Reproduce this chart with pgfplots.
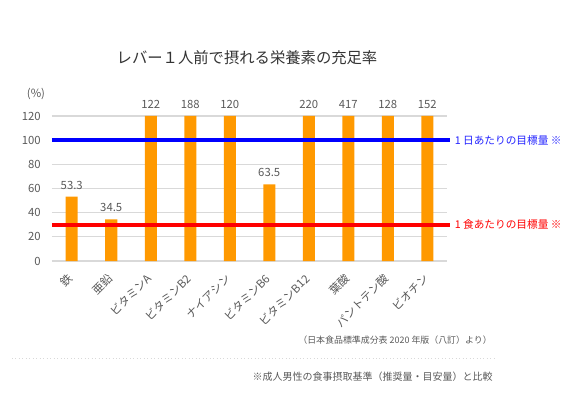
\documentclass[border=0pt]{standalone}
\usepackage{pgfplots}
\pgfplotsset{compat=1.18}
\usepackage{pgfplotstable}
\usepackage{fontspec}
\setmainfont{Noto Sans CJK JP}
\definecolor{barorange}{HTML}{FF9900}
\definecolor{txtgray}{HTML}{595959}
\definecolor{gridgray}{HTML}{D9D9D9}
\definecolor{lblue}{HTML}{2222FF}
\pgfplotstableread{
x val
0 53.3
1 34.5
2 122
3 188
4 120
5 63.5
6 220
7 417
8 128
9 152
}\datatable
\begin{document}
\begin{tikzpicture}
\path[use as bounding box] (0,0) rectangle (436.5pt,297.75pt);
\begin{axis}[
  at={(39pt,102pt)}, anchor=south west,
  scale only axis, width=296.25pt, height=108.75pt,
  xmin=-0.5, xmax=9.5, ymin=0, ymax=120,
  ytick={0,20,...,120},
  ymajorgrids, grid style={gridgray, line width=0.8pt},
  axis line style={draw=none}, tick style={draw=none},
  xtick={0,...,9},
  xticklabels={鉄,亜鉛,ビタミンA,ビタミンB2,ナイアシン,ビタミンB6,ビタミンB12,葉酸,パントテン酸,ビオチン},
  xticklabel style={rotate=45, anchor=east, font=\fontsize{8.5}{8.5}\selectfont, text=txtgray, inner sep=1pt},
  xticklabel shift=11pt,
  yticklabel style={font=\fontsize{8.5}{8.5}\selectfont, text=txtgray, xshift=-5pt},
  /pgf/number format/assume math mode=true,
  clip=false,
]
\addplot[ybar, bar width=9pt, fill=barorange, draw=none,
  y filter/.expression={min(y,120)},
  point meta=explicit symbolic,
  nodes near coords,
  nodes near coords style={font=\fontsize{8.5}{8.5}\selectfont, text=txtgray, yshift=2pt}]
  table[x=x, y=val, meta=val]{\datatable};
\addplot[blue, line width=3pt, forget plot] coordinates {(-0.5,100) (9.58,100)}
  node[pos=1, anchor=west, text=lblue, font=\fontsize{8}{8}\selectfont, inner sep=2pt] {1 日あたりの目標量 ※};
\addplot[red, line width=3pt, forget plot] coordinates {(-0.5,30) (9.58,30)}
  node[pos=1, anchor=west, text=red, font=\fontsize{8}{8}\selectfont, inner sep=2pt] {1 食あたりの目標量 ※};
\end{axis}
\node[font=\fontsize{11.5}{11.5}\selectfont, text={rgb,255:red,51;green,51;blue,51}] at (185.25pt,254.25pt) {レバー１人前で摂れる栄養素の充足率};
\node[font=\fontsize{8.5}{8.5}\selectfont, text=txtgray] at (27pt,227.25pt) {(\%)};
\node[anchor=east, font=\fontsize{6.7}{6.7}\selectfont, text=txtgray, inner sep=0pt] at (369pt,42.75pt) {（日本食品標準成分表 2020 年版（八訂）より）};
\draw[gridgray, line width=0.6pt, dotted] (9pt,29.25pt) -- (372.75pt,29.25pt);
\node[anchor=east, font=\fontsize{7.5}{7.5}\selectfont, text=txtgray, inner sep=0pt] at (369.75pt,15pt) {※成人男性の食事摂取基準（推奨量・目安量）と比較};
\end{tikzpicture}
\end{document}
